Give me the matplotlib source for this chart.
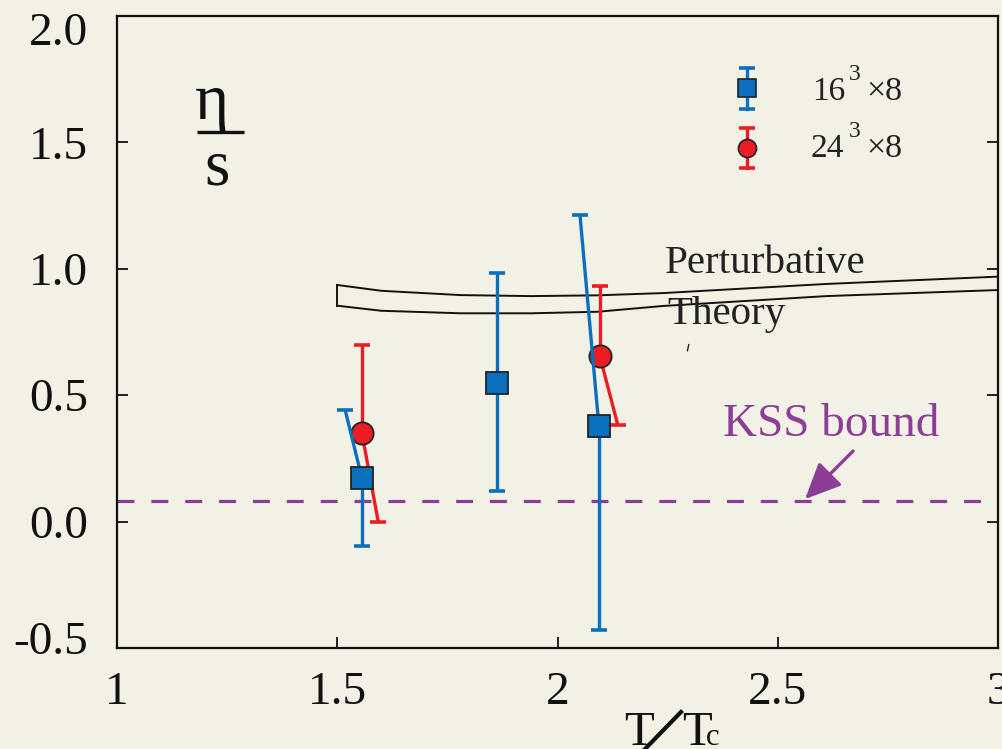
import matplotlib
matplotlib.use("Agg")
import matplotlib.pyplot as plt
from matplotlib.transforms import ScaledTranslation

# ---------------- data ----------------
# 16^3 x 8 lattice (blue squares)
blue_x = [1.556, 1.863, 2.094]
blue_y = [0.172, 0.548, 0.378]
blue_hi = [0.441, 0.983, 1.213]
blue_lo = [-0.097, 0.121, -0.429]
blue_hi_x = [1.518, 1.863, 2.051]   # x where the (skewed) upper cap sits
blue_lo_x = [1.556, 1.863, 2.094]   # x where the lower cap sits

# 24^3 x 8 lattice (red circles)
red_x = [1.556, 2.096]
red_y = [0.350, 0.655]
red_hi = [0.699, 0.932]
red_lo = [0.000, 0.382]
red_hi_x = [1.556, 2.096]
red_lo_x = [1.593, 2.137]

# perturbative theory band
band_x = [1.5, 1.6, 1.78, 1.94, 2.09, 2.24, 2.61, 3.0]
band_upper = [0.936, 0.913, 0.896, 0.892, 0.895, 0.904, 0.940, 0.969]
band_lower = [0.854, 0.834, 0.824, 0.824, 0.830, 0.853, 0.892, 0.916]

kss_value = 0.08

x_ticks = [1, 1.5, 2, 2.5, 3]
x_ticklabels = ["1", "1.5", "2", "2.5", "3"]
y_ticks = [-0.5, 0.0, 0.5, 1.0, 1.5, 2.0]
y_ticklabels = ["-0.5", "0.0", "0.5", "1.0", "1.5", "2.0"]

# ---------------- style ----------------
BG = "#f2f1e6"
BLUE = "#0a70bd"
RED = "#ec1c24"
PURPLE = "#8e3d97"
SERIF = ["Liberation Serif", "DejaVu Serif"]

plt.rcParams["font.family"] = SERIF

fig = plt.figure(figsize=(10.02, 7.49), dpi=100, facecolor=BG)
ax = fig.add_axes([117 / 1002, 101 / 749, 881 / 1002, 632 / 749])
ax.set_facecolor(BG)
ax.set_xlim(1, 3)
ax.set_ylim(-0.5, 2.0)

for side in ["left", "bottom", "right", "top"]:
    ax.spines[side].set_linewidth(1.6)
    ax.spines[side].set_color("#111111")

ax.set_xticks(x_ticks)
ax.set_xticklabels(x_ticklabels)
ax.set_yticks(y_ticks)
ax.set_yticklabels(y_ticklabels)
ax.tick_params(axis="both", direction="in", length=8, width=1.3, labelsize=34,
               colors="#111111")
ax.tick_params(axis="y", pad=21, right=True)
ax.tick_params(axis="x", pad=17)

# shift first/last y tick labels like in the reference
ylabels = ax.get_yticklabels()
ylabels[-1].set_transform(ylabels[-1].get_transform() +
                          ScaledTranslation(0, -0.13, fig.dpi_scale_trans))
ylabels[0].set_transform(ylabels[0].get_transform() +
                         ScaledTranslation(0, 0.10, fig.dpi_scale_trans))

# KSS bound dashed line
ax.axhline(kss_value, color=PURPLE, lw=2.3, linestyle=(0, (5.3, 5.3)), zorder=1)

# perturbative band (closed outline on left)
ax.plot(band_x, band_upper, color="#111111", lw=1.4, zorder=1)
ax.plot(band_x, band_lower, color="#111111", lw=1.4, zorder=1)
ax.plot([band_x[0], band_x[0]], [band_lower[0], band_upper[0]],
        color="#111111", lw=1.4, zorder=1)


def draw_series(xs, ys, hi, lo, hix, lox, color, marker, msize, z):
    for x, y, h, l, hx, lx in zip(xs, ys, hi, lo, hix, lox):
        ax.plot([x, hx], [y, h], color=color, lw=2.4, zorder=z,
                solid_capstyle="butt")
        ax.plot([x, lx], [y, l], color=color, lw=2.4, zorder=z,
                solid_capstyle="butt")
    ax.plot(hix, hi, linestyle="none", marker="_", markersize=12,
            markeredgewidth=2.6, color=color, zorder=z)
    ax.plot(lox, lo, linestyle="none", marker="_", markersize=12,
            markeredgewidth=2.6, color=color, zorder=z)
    ax.plot(xs, ys, linestyle="none", marker=marker, markersize=msize,
            markerfacecolor=color, markeredgecolor="#222222",
            markeredgewidth=1.3, zorder=z + 0.5)


draw_series(red_x, red_y, red_hi, red_lo, red_hi_x, red_lo_x, RED, "o", 16, 3)
draw_series(blue_x, blue_y, blue_hi, blue_lo, blue_hi_x, blue_lo_x, BLUE, "s",
            15.5, 4)

# legend (manual)
T = ax.transAxes
for (yc, ytop, ybot, col, mk) in [(0.886, 0.918, 0.853, BLUE, "s"),
                                  (0.791, 0.823, 0.759, RED, "o")]:
    ax.plot([0.715, 0.715], [ybot, ytop], color=col, lw=2.4, transform=T,
            zorder=5)
    ax.plot([0.715, 0.715], [ybot, ytop], linestyle="none", marker="_",
            markersize=12, markeredgewidth=2.6, color=col, transform=T,
            zorder=5)
    ax.plot([0.715], [yc], linestyle="none", marker=mk, markersize=13,
            markerfacecolor=col, markeredgecolor="#222222",
            markeredgewidth=1.2, transform=T, zorder=6)

for (lab, xb, yb) in [("16", 0.789, 0.867), ("24", 0.787, 0.777)]:
    ax.text(xb, yb, lab, transform=T, fontsize=24, va="baseline",
            ha="left", color="#222222")
    ax.text(0.831, yb + 0.032, "3", transform=T, fontsize=17,
            va="baseline", ha="left", color="#222222")
    ax.text(0.851, yb, "×8", transform=T, fontsize=24.5, va="baseline",
            ha="left", color="#222222")

# eta / s
ax.text(0.108, 0.862, "η", transform=T, fontsize=47, ha="center",
        va="center", color="#111111")
ax.plot([0.091, 0.144], [0.816, 0.816], color="#111111", lw=2.4,
        transform=T, solid_capstyle="butt")
ax.text(0.114, 0.758, "s", transform=T, fontsize=47, ha="center",
        va="center", color="#111111")

# Perturbative Theory
ax.text(2.244, 0.983, "Perturbative", fontsize=29.5, va="baseline",
        ha="left", color="#222222")
ax.text(2.249, 0.782, "Theory", fontsize=29.5, va="baseline",
        ha="left", color="#222222")
# small stray stroke seen in the reference
ax.plot([2.298, 2.295], [0.700, 0.676], color="#222222", lw=1.0)

# KSS bound label and arrow
ax.text(2.376, 0.382, "KSS bound", fontsize=34, va="center", ha="left",
        color=PURPLE)
ax.annotate("", xy=(2.562, 0.089), xytext=(2.671, 0.279),
            arrowprops=dict(arrowstyle="-|>,head_length=1.1,head_width=0.5",
                            mutation_scale=20, color=PURPLE, lw=2.4,
                            shrinkA=0, shrinkB=0))

# x axis label T / Tc
fig.text(624 / 1002, 4 / 749, "T", fontsize=35, va="baseline", ha="left",
         color="#111111")
fig.add_artist(plt.Line2D([645 / 1002, 681 / 1002], [0.0, 37 / 749],
                          color="#111111", lw=3.0, transform=fig.transFigure))
fig.text(682 / 1002, 4 / 749, "T", fontsize=35, va="baseline", ha="left",
         color="#111111")
fig.text(706 / 1002, 4 / 749, "c", fontsize=22, va="baseline", ha="left",
         color="#111111")

fig.savefig("out.png", dpi=100, facecolor=BG)
